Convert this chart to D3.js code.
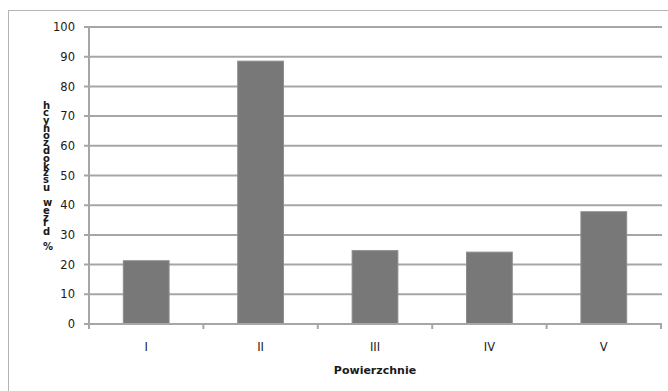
<!DOCTYPE html>
<html>
<head>
<meta charset="utf-8">
<script src="https://cdn.jsdelivr.net/npm/d3@7/dist/d3.min.js"></script>
<style>
  html, body { margin: 0; padding: 0; background: #fff; }
  svg { display: block; }
</style>
</head>
<body>
<svg id="chart" width="668" height="391"></svg>
<script>
// Surfaces and the share of damaged trees on each
const categories = ["I", "II", "III", "IV", "V"];
const values = [21.3, 88.5, 24.7, 24.2, 37.8];
const yTicks = [0, 10, 20, 30, 40, 50, 60, 70, 80, 90, 100];
const xTitle = "Powierzchnie";
const yTitle = "% drzew uszkodzonych";

const svg = d3.select("#chart");
const font = "'DejaVu Sans', Verdana, sans-serif";

// outer chart frame
svg.append("rect")
  .attr("x", 8.5).attr("y", 10.5)
  .attr("width", 700).attr("height", 420)
  .attr("fill", "#fff").attr("stroke", "#b4b4b4").attr("stroke-width", 1);

const plot = { left: 89, right: 661, top: 27, bottom: 324 };

const x = d3.scaleBand().domain(categories)
  .range([plot.left, plot.right]).paddingInner(0).paddingOuter(0);
const y = d3.scaleLinear().domain([0, 100]).range([plot.bottom, plot.top]);

// horizontal gridlines with left tick stubs
svg.append("g").selectAll("line").data(yTicks.filter(d => d > 0)).join("line")
  .attr("x1", plot.left - 5).attr("x2", plot.right + 1)
  .attr("y1", d => y(d)).attr("y2", d => y(d))
  .attr("stroke", "#a6a6a6").attr("stroke-width", 2);

// y tick labels
svg.append("g").selectAll("text").data(yTicks).join("text")
  .attr("x", 75).attr("y", d => y(d)).attr("dy", "0.36em")
  .attr("text-anchor", "end")
  .attr("font-family", font).attr("font-size", 11.5).attr("fill", "#1a1a1a")
  .text(d => d);

// bars: width follows a 150% gap between columns
const barW = x.bandwidth() / 2.5;
svg.append("g").selectAll("rect").data(categories).join("rect")
  .attr("x", (d) => x(d) + (x.bandwidth() - barW) / 2)
  .attr("y", (d, i) => y(values[i]))
  .attr("width", barW)
  .attr("height", (d, i) => y(0) - y(values[i]))
  .attr("fill", "#787878").attr("stroke", "#8c8c8c").attr("stroke-width", 1);

// y axis line
svg.append("line")
  .attr("x1", plot.left).attr("x2", plot.left)
  .attr("y1", plot.top).attr("y2", plot.bottom + 5)
  .attr("stroke", "#a6a6a6").attr("stroke-width", 2);

// x axis line with boundary ticks
svg.append("line")
  .attr("x1", plot.left - 5).attr("x2", plot.right + 1)
  .attr("y1", plot.bottom).attr("y2", plot.bottom)
  .attr("stroke", "#a6a6a6").attr("stroke-width", 2);
const bounds = categories.map(c => x(c)).concat([plot.right]);
svg.append("g").selectAll("line").data(bounds).join("line")
  .attr("x1", d => d).attr("x2", d => d)
  .attr("y1", plot.bottom).attr("y2", plot.bottom + 5)
  .attr("stroke", "#a6a6a6").attr("stroke-width", 2);

// category labels
svg.append("g").selectAll("text").data(categories).join("text")
  .attr("x", d => x(d) + x.bandwidth() / 2).attr("y", 351)
  .attr("text-anchor", "middle")
  .attr("font-family", font).attr("font-size", 11.5).attr("fill", "#1a1a1a")
  .text(d => d);

// x axis title
svg.append("text")
  .attr("x", (plot.left + plot.right) / 2).attr("y", 374)
  .attr("text-anchor", "middle")
  .attr("font-family", font).attr("font-size", 11).attr("font-weight", "bold")
  .attr("fill", "#1a1a1a")
  .text(xTitle);

// y axis title: runs bottom to top, each glyph turned back upright
svg.append("text")
  .attr("transform", "translate(43,250) rotate(-90)")
  .attr("x", 0).attr("y", 0)
  .attr("rotate", 90)
  .attr("textLength", 148).attr("lengthAdjust", "spacing")
  .attr("font-family", font).attr("font-size", 10).attr("font-weight", "bold")
  .attr("fill", "#1a1a1a")
  .text(yTitle);
</script>
</body>
</html>
